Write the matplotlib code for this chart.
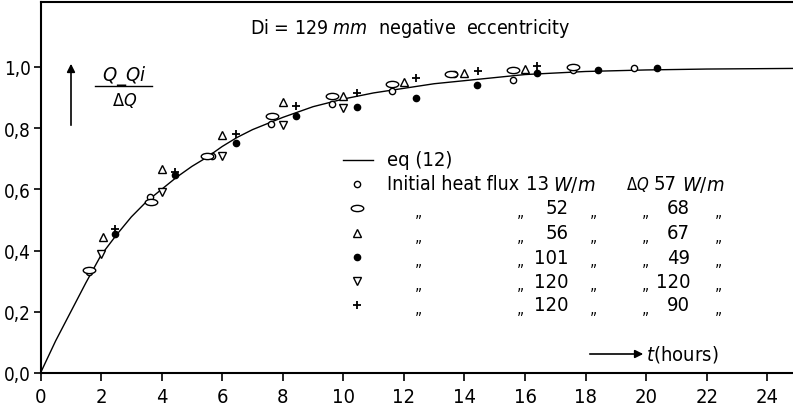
import matplotlib
matplotlib.use("Agg")
import matplotlib.pyplot as plt
from matplotlib import font_manager as fm
from matplotlib.path import Path
from matplotlib.transforms import Affine2D
from matplotlib.lines import Line2D

# narrow lettering: take a narrow face if there is one
names = {f.name for f in fm.fontManager.ttflist}
dv_cond = any(f.name == 'DejaVu Sans' and 'condensed' in str(f.stretch)
              for f in fm.fontManager.ttflist)
if 'Liberation Sans Narrow' in names:
    fam, stretch, k = 'Liberation Sans Narrow', 'normal', 1.0
elif 'DejaVu Sans Condensed' in names:
    fam, stretch, k = 'DejaVu Sans Condensed', 'normal', 1.0
elif dv_cond:
    fam, stretch, k = 'DejaVu Sans', 'condensed', 1.0
else:
    fam, stretch, k = 'DejaVu Sans', 'normal', 0.88

plt.rcParams['font.family'] = [fam, 'DejaVu Sans']
plt.rcParams['font.stretch'] = stretch
plt.rcParams['mathtext.fontset'] = 'custom'
plt.rcParams['mathtext.rm'] = fam + ':stretch=' + stretch
plt.rcParams['mathtext.it'] = fam + ':italic:stretch=' + stretch

# eq (12) curve
curve_t = [0, 0.5, 1, 1.5, 2, 2.5, 3, 3.5, 4, 4.5, 5, 5.5, 6, 6.5, 7, 7.5, 8,
           9, 10, 11, 12, 13, 14, 15, 16, 17, 18, 20, 22, 24.85]
curve_v = [0, 0.105, 0.20, 0.295, 0.385, 0.45, 0.51, 0.56, 0.60, 0.64, 0.675,
           0.705, 0.74, 0.77, 0.795, 0.815, 0.835, 0.87, 0.895, 0.915, 0.93,
           0.945, 0.955, 0.965, 0.975, 0.98, 0.985, 0.99, 0.993, 0.995]

# measured points per run
circ_t = [1.6, 3.6, 5.65, 7.6, 9.63, 11.6, 13.65, 15.6, 17.6, 19.6]
circ_v = [0.33, 0.575, 0.708, 0.815, 0.88, 0.92, 0.977, 0.958, 0.99, 0.997]
ell_t = [1.6, 3.65, 5.5, 7.65, 9.63, 11.6, 13.55, 15.6, 17.6]
ell_v = [0.335, 0.56, 0.71, 0.838, 0.906, 0.945, 0.977, 0.99, 1.0]
tri_t = [2.05, 4.0, 6.0, 8.0, 10.0, 12.0, 14.0, 16.0]
tri_v = [0.445, 0.665, 0.776, 0.886, 0.906, 0.95, 0.98, 0.993]
dot_t = [2.45, 4.45, 6.45, 8.45, 10.45, 12.4, 14.4, 16.4, 18.4, 20.35]
dot_v = [0.455, 0.646, 0.75, 0.838, 0.87, 0.9, 0.94, 0.98, 0.99, 0.997]
dtri_t = [2.0, 4.0, 6.0, 8.0, 10.0]
dtri_v = [0.39, 0.59, 0.708, 0.81, 0.867]
plus_t = [2.45, 4.43, 6.45, 8.45, 10.45, 12.4, 14.45, 16.4]
plus_v = [0.47, 0.657, 0.78, 0.873, 0.916, 0.964, 0.987, 1.003]

flux = ['13', '52', '56', '101', '120', '120']
dq = ['57', '68', '67', '49', '120', '90']

W, H = 793, 414
def px(x, y):
    return x / W, 1 - y / H

ellipse = Path.unit_circle().transformed(Affine2D().scale(1.0, 0.5))
styles = [
    dict(marker='o', ms=4.5, mfc='white', mec='black', mew=1.0),
    dict(marker=ellipse, ms=9, mfc='white', mec='black', mew=1.0),
    dict(marker='^', ms=6, mfc='white', mec='black', mew=1.0),
    dict(marker='o', ms=4.5, mfc='black', mec='black', mew=1.0),
    dict(marker='v', ms=6, mfc='white', mec='black', mew=1.0),
    dict(marker='+', ms=6, mec='black', mew=1.3),
]

fs = 14.5 * k

fig = plt.figure(figsize=(W / 100, H / 100), dpi=100)
ax = fig.add_axes([40.5 / W, 40 / H, 1 - 40.5 / W, 371 / H])

ax.plot(curve_t, curve_v, color='black', lw=1.0)
series = [(circ_t, circ_v), (ell_t, ell_v), (tri_t, tri_v),
          (dot_t, dot_v), (dtri_t, dtri_v), (plus_t, plus_v)]
for (t, v), st in zip(series, styles):
    ax.plot(t, v, ls='none', **st)

ax.set_xlim(0, 24.85)
ax.set_ylim(0, 1.212)
ax.set_xticks(range(0, 25, 2))
ax.set_yticks([0, 0.2, 0.4, 0.6, 0.8, 1.0])
ax.set_yticklabels(['0,0', '0,2', '0,4', '0,6', '0,8', '1,0'])
ax.tick_params(axis='x', direction='out', length=6, width=1.2, labelsize=fs, pad=4)
ax.tick_params(axis='y', direction='out', length=5, width=1.2, labelsize=13.5 * k, pad=2)
ax.spines['right'].set_visible(False)
for s in ['left', 'bottom', 'top']:
    ax.spines[s].set_linewidth(1.5)

# title and y label
fig.text(*px(250, 29), 'Di = 129 $mm$  negative  eccentricity', fontsize=14 * k, va='center')
fig.text(*px(124, 76), '$Q$_$Qi$', fontsize=fs, ha='center', va='center')
fig.add_artist(Line2D([95 / W, 152 / W], [1 - 87 / H] * 2, color='black', lw=1.0))
fig.text(*px(125, 101), 'Δ$Q$', fontsize=13 * k, ha='center', va='center')
ax.annotate('', xy=px(71, 62), xytext=px(71, 129), xycoords='figure fraction',
            arrowprops=dict(arrowstyle='-|>', color='black', lw=1.2, mutation_scale=12))

# t(hours) label
ax.annotate('', xy=px(646, 355), xytext=px(587, 355), xycoords='figure fraction',
            arrowprops=dict(arrowstyle='-|>', color='black', lw=1.2, mutation_scale=12))
fig.text(*px(646, 355), '$t$(hours)', fontsize=fs, va='center')

# legend block
rows = [161, 185, 209, 234, 258, 282, 306]
fig.add_artist(Line2D([343 / W, 373 / W], [1 - rows[0] / H] * 2, color='black', lw=1.0))
fig.text(*px(387, rows[0]), 'eq (12)', fontsize=fs, va='center')
for i, st in enumerate(styles):
    y = rows[i + 1]
    fig.add_artist(Line2D([357 / W], [1 - y / H], ls='none', **st))
    if i == 0:
        fig.text(*px(387, y), 'Initial heat flux', fontsize=14 * k, va='center')
        fig.text(*px(549, y), flux[i], fontsize=fs, va='center', ha='right')
        fig.text(*px(553, y), '$W/m$', fontsize=fs, va='center')
        fig.text(*px(626, y), 'Δ$Q$', fontsize=12 * k, va='center')
        fig.text(*px(677, y), dq[i], fontsize=fs, va='center', ha='right')
        fig.text(*px(682, y), '$W/m$', fontsize=fs, va='center')
    else:
        for dx in [418, 520, 593, 645, 718]:
            fig.text(*px(dx, y + 4), '„', fontsize=11, va='center', ha='center')
        fig.text(*px(569, y), flux[i], fontsize=fs, va='center', ha='right')
        fig.text(*px(690, y), dq[i], fontsize=fs, va='center', ha='right')

fig.savefig('out.png', dpi=100)
